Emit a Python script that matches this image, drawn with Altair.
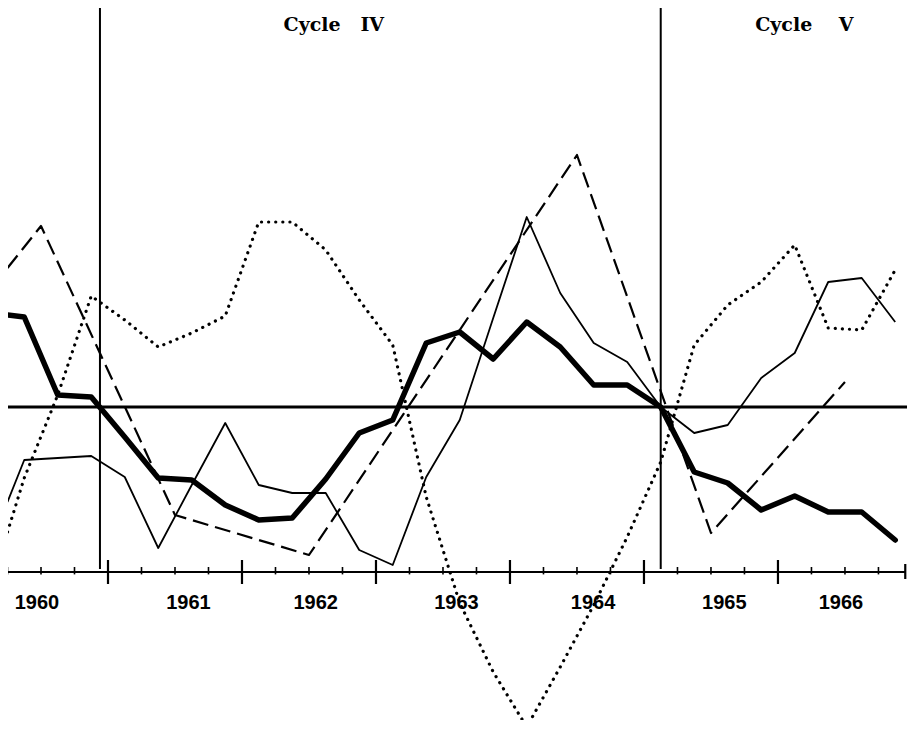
import altair as alt
import pandas as pd

# ---------------- data (deviation units) ----------------
# quarterly series: first point at the left edge of the chart, then mid-quarter points
quarter_t = [1960.25] + [1960.375 + 0.25 * k for k in range(27)]

heavy = [4.6, 4.5, 0.6, 0.5, -1.5, -3.55, -3.65, -4.9, -5.65, -5.55, -3.6, -1.3, -0.65,
         3.2, 3.75, 2.4, 4.25, 3.0, 1.1, 1.1, 0.0, -3.25, -3.8, -5.15, -4.45, -5.25, -5.25, -6.65]
thin = [-4.75, -2.65, -2.55, -2.45, -3.5, -7.05, -3.9, -0.8, -3.9, -4.3, -4.3, -7.15, -7.9,
        -3.5, -0.65, 4.45, 9.5, 5.7, 3.2, 2.25, 0.0, -1.3, -0.9, 1.45, 2.7, 6.25, 6.45, 4.25]
dotted = [-6.25, -3.55, 0.6, 5.55, 4.35, 3.0, 3.7, 4.55, 9.25, 9.25, 7.85, 5.35, 3.1,
          -4.5, -9.8, -13.25, -16.0, -13.0, -9.9, -6.5, -2.75, 3.1, 5.1, 6.25, 8.1, 3.95, 3.85, 6.85]

# annual series (mid-year points), first point at the left edge
annual_t = [1960.25, 1960.5, 1961.5, 1962.5, 1963.5, 1964.5, 1965.5, 1966.5]
dashed = [6.95, 9.05, -5.4, -7.4, 2.6, 12.6, -6.3, 1.25]

# reference cycle turning points (vertical lines)
turning_points = [1960.94, 1965.125]

# time axis
years = [1960, 1961, 1962, 1963, 1964, 1965, 1966]
year_label_pos = [1960.47, 1961.6, 1962.55, 1963.6, 1964.62, 1965.6, 1966.47]
year_bounds = [1961, 1962, 1963, 1964, 1965, 1966]
axis_start, axis_end = 1960.25, 1966.95
quarter_bounds = [1960.25, 1960.5, 1960.75] + [y + q for y in year_bounds for q in (0.25, 0.5, 0.75)]

cycle_labels = ["Cycle\u00a0\u00a0\u00a0IV", "Cycle\u00a0\u00a0\u00a0\u00a0V"]
cycle_label_t = [1962.31, 1965.83]

# ---------------- frames ----------------
rows = []
for name, ts, vals in [("heavy", quarter_t, heavy), ("thin", quarter_t, thin),
                       ("dotted", quarter_t, dotted), ("dashed", annual_t, dashed)]:
    for t, v in zip(ts, vals):
        rows.append({"series": name, "t": t, "v": v})
df = pd.DataFrame(rows)

X_DOM = [1960.2537, 1966.963]
Y_DOM = [-15.65, 19.95]
xs = alt.Scale(domain=X_DOM, nice=False, zero=False)
ys = alt.Scale(domain=Y_DOM, nice=False, zero=False)

AXIS_Y = -8.25

def line_layer(name, **mark):
    return (alt.Chart(df).transform_filter(alt.datum.series == name)
            .mark_line(color="black", strokeJoin="round", **mark)
            .encode(x=alt.X("t:Q", scale=xs, axis=None),
                    y=alt.Y("v:Q", scale=ys, axis=None),
                    order="t:Q"))

heavy_l = line_layer("heavy", strokeWidth=5.5, strokeCap="round")
thin_l = line_layer("thin", strokeWidth=1.8)
dashed_l = line_layer("dashed", strokeWidth=2.2, strokeDash=[16, 7])
dotted_l = line_layer("dotted", strokeWidth=3.2, strokeDash=[0.1, 7.0], strokeCap="round")

zero_df = pd.DataFrame({"x": [1960.25], "x2": [1966.963], "y": [0.0]})
zero_l = alt.Chart(zero_df).mark_rule(color="black", strokeWidth=3).encode(
    x=alt.X("x:Q", scale=xs, axis=None), x2="x2:Q", y=alt.Y("y:Q", scale=ys, axis=None))

vert_df = pd.DataFrame({"x": turning_points, "y": [-8.1] * 2, "y2": [20.4] * 2})
vert_l = alt.Chart(vert_df).mark_rule(color="black", strokeWidth=2).encode(
    x=alt.X("x:Q", scale=xs, axis=None), y=alt.Y("y:Q", scale=ys, axis=None), y2="y2:Q")

axis_df = pd.DataFrame({"x": [axis_start], "x2": [axis_end], "y": [AXIS_Y]})
axis_l = alt.Chart(axis_df).mark_rule(color="black", strokeWidth=2).encode(
    x=alt.X("x:Q", scale=xs, axis=None), x2="x2:Q", y=alt.Y("y:Q", scale=ys, axis=None))

major_df = pd.DataFrame({"x": year_bounds + [axis_end],
                         "y": [AXIS_Y + 0.6] * len(year_bounds) + [AXIS_Y + 0.4],
                         "y2": [AXIS_Y - 0.6] * len(year_bounds) + [AXIS_Y - 0.35]})
major_l = alt.Chart(major_df).mark_rule(color="black", strokeWidth=2.2).encode(
    x=alt.X("x:Q", scale=xs, axis=None), y=alt.Y("y:Q", scale=ys, axis=None), y2="y2:Q")

minor_df = pd.DataFrame({"x": quarter_bounds, "y": [AXIS_Y + 0.25] * len(quarter_bounds),
                         "y2": [AXIS_Y - 0.12] * len(quarter_bounds)})
minor_l = alt.Chart(minor_df).mark_rule(color="black", strokeWidth=1.6).encode(
    x=alt.X("x:Q", scale=xs, axis=None), y=alt.Y("y:Q", scale=ys, axis=None), y2="y2:Q")

lab_df = pd.DataFrame({"x": year_label_pos, "y": [-9.8] * len(years), "label": [str(y) for y in years]})
lab_l = alt.Chart(lab_df).mark_text(font="Liberation Sans", fontWeight="bold", fontSize=20,
                                    baseline="middle", align="center", color="black").encode(
    x=alt.X("x:Q", scale=xs, axis=None), y=alt.Y("y:Q", scale=ys, axis=None), text="label:N")

cyc_df = pd.DataFrame({"x": cycle_label_t, "y": [19.1] * 2, "label": cycle_labels})
cyc_l = alt.Chart(cyc_df).mark_text(font="DejaVu Serif", fontWeight="bold", fontSize=19,
                                    baseline="middle", align="left", color="black").encode(
    x=alt.X("x:Q", scale=xs, axis=None), y=alt.Y("y:Q", scale=ys, axis=None), text="label:N")

chart = alt.layer(zero_l, vert_l, axis_l, major_l, minor_l, dotted_l, dashed_l, thin_l, heavy_l,
                  lab_l, cyc_l).properties(
    width=899, height=712, padding=0, background="white",
    autosize=alt.AutoSizeParams(type="none")
).configure_view(stroke=None)

chart.save("out.html", embed_options={"renderer": "svg", "actions": False})
